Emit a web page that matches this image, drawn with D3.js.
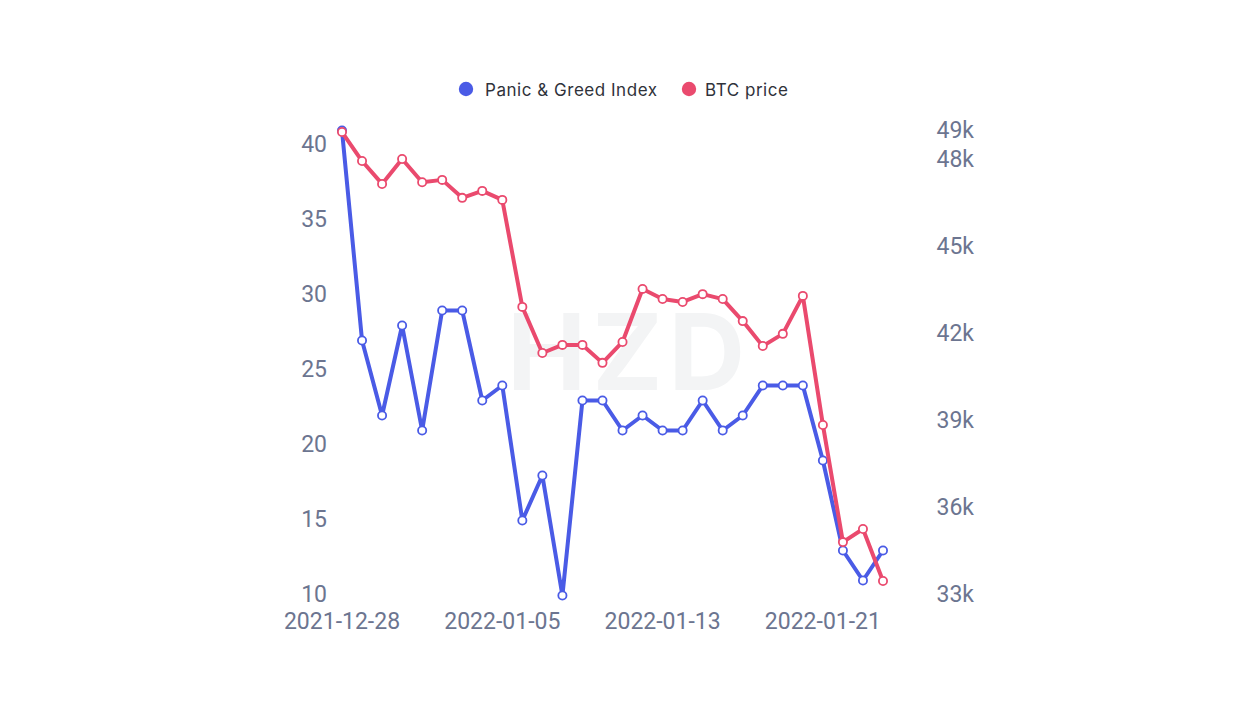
<!DOCTYPE html>
<html>
<head>
<meta charset="utf-8">
<script src="https://cdn.jsdelivr.net/npm/d3@7/dist/d3.min.js"></script>
<style>
    html, body { margin: 0; background: #fff; }
    svg { display: block; }
    .axis text { font-family: Roboto, sans-serif; font-size: 23px; fill: #6c7590; }
    .axis path, .axis line { display: none; }
    .legend text { font-family: Inter, sans-serif; font-size: 17px; fill: #2f323a; letter-spacing: 0.53px; }
</style>
</head>
<body>
<script>
const dates = ['2021-12-28', '2021-12-29', '2021-12-30', '2021-12-31', '2022-01-01', '2022-01-02', '2022-01-03',
    '2022-01-04', '2022-01-05', '2022-01-06', '2022-01-07', '2022-01-08', '2022-01-09', '2022-01-10',
    '2022-01-11', '2022-01-12', '2022-01-13', '2022-01-14', '2022-01-15', '2022-01-16', '2022-01-17',
    '2022-01-18', '2022-01-19', '2022-01-20', '2022-01-21', '2022-01-22', '2022-01-23', '2022-01-24'];
const panicGreed = [41, 27, 22, 28, 21, 29, 29, 23, 24, 15, 18, 10, 23, 23,
    21, 22, 21, 21, 23, 21, 22, 24, 24, 24, 19, 13, 11, 13];
const btcPrice = [48930, 47930, 47140, 48000, 47200, 47280, 46660, 46900, 46590, 42900, 41310, 41590, 41590, 40970,
    41690, 43520, 43170, 43070, 43340, 43170, 42410, 41550, 41970, 43280, 38830, 34790, 35240, 33450];
const dateTicks = ['2021-12-28', '2022-01-05', '2022-01-13', '2022-01-21'];
const leftTicks = [10, 15, 20, 25, 30, 35, 40];
const rightTicks = [33000, 36000, 39000, 42000, 45000, 48000, 49000];
const seriesNames = ['Panic & Greed Index', 'BTC price'];

const blue = '#4a5be6', red = '#ea4a6e';
const width = 1254, height = 704;

const svg = d3.select('body')
    .append('svg')
    .attr('width', width)
    .attr('height', height);

const xScale = d3.scalePoint().domain(dates).range([342, 883]);
const leftScale = d3.scaleLinear().domain([10, 40]).range([595.5, 145.5]);
const rightScale = d3.scaleLinear().domain([33000, 48000]).range([594, 159]);

// faint watermark behind the lines
svg.append('text')
    .attr('x', 507)
    .attr('y', 390)
    .attr('font-family', 'Inter, sans-serif')
    .attr('font-weight', 700)
    .attr('font-size', 106)
    .attr('textLength', 238)
    .attr('lengthAdjust', 'spacing')
    .attr('fill', '#f3f4f5')
    .text('HZD');

svg.append('g')
    .attr('class', 'x axis')
    .attr('transform', 'translate(-0.5,621.5)')
    .call(d3.axisBottom(xScale).tickValues(dateTicks).tickSize(0).tickPadding(0))
    .selectAll('text')
    .attr('dy', '0.32em');

svg.append('g')
    .attr('class', 'y axis')
    .attr('transform', 'translate(327,-1)')
    .call(d3.axisLeft(leftScale).tickValues(leftTicks).tickSize(0).tickPadding(0));

svg.append('g')
    .attr('class', 'y axis')
    .attr('transform', 'translate(974,0.5)')
    .call(d3.axisLeft(rightScale).tickValues(rightTicks).tickSize(0).tickPadding(0)
        .tickFormat(function(d) { return (d / 1000) + 'k'; }));

function drawSeries(values, scale, color) {
    const line = d3.line()
        .x(function(d, i) { return xScale(dates[i]); })
        .y(function(d) { return scale(d); });

    const g = svg.append('g');

    g.append('path')
        .attr('d', line(values))
        .attr('fill', 'none')
        .attr('stroke', color)
        .attr('stroke-width', 4)
        .attr('stroke-linejoin', 'round');

    g.selectAll('circle')
        .data(values)
        .enter()
        .append('circle')
        .attr('cx', function(d, i) { return xScale(dates[i]); })
        .attr('cy', function(d) { return scale(d); })
        .attr('r', 4.1)
        .attr('fill', '#fff')
        .attr('stroke', color)
        .attr('stroke-width', 1.8);
}

drawSeries(panicGreed, leftScale, blue);
drawSeries(btcPrice, rightScale, red);

const legendX = d3.scaleOrdinal().domain(seriesNames).range([466, 689]);
const legendColor = d3.scaleOrdinal().domain(seriesNames).range([blue, red]);
const legendGap = d3.scaleOrdinal().domain(seriesNames).range([19, 16]);

const legend = svg.append('g')
    .attr('class', 'legend')
    .selectAll('g')
    .data(seriesNames)
    .enter()
    .append('g')
    .attr('transform', function(d) { return 'translate(' + legendX(d) + ',89)'; });

legend.append('circle')
    .attr('r', 7.2)
    .attr('fill', function(d) { return legendColor(d); });

legend.append('text')
    .attr('x', function(d) { return legendGap(d); })
    .attr('y', 6.5)
    .text(function(d) { return d; });
</script>
</body>
</html>
